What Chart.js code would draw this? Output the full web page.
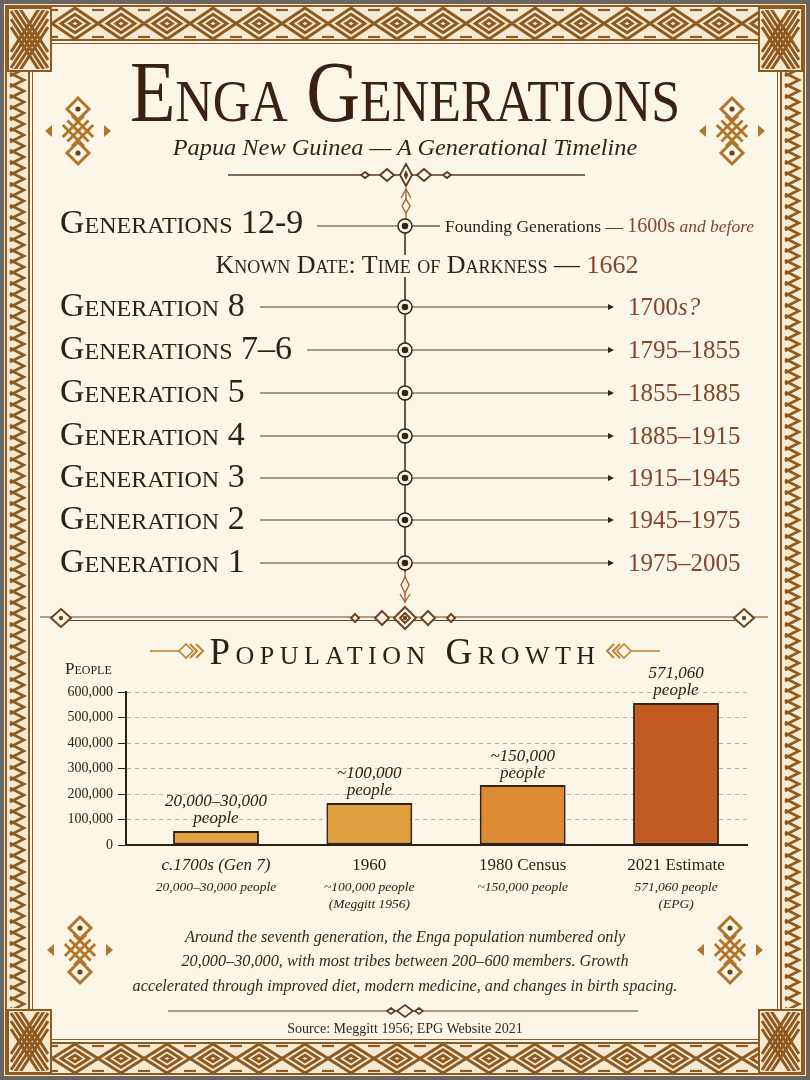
<!DOCTYPE html>
<html>
<head>
<meta charset="utf-8">
<title>Enga Generations</title>
<script src="https://cdn.jsdelivr.net/npm/chart.js@4.4.1/dist/chart.umd.min.js"></script>
<style>
  html, body { margin: 0; padding: 0; }
  body { width: 810px; height: 1080px; overflow: hidden; background: #6a645e; font-family: "Liberation Serif", "DejaVu Serif", serif; }
  #page { position: relative; width: 810px; height: 1080px; }
  #deco { position: absolute; left: 0; top: 0; }
  .txt { position: absolute; white-space: nowrap; line-height: 1; color: #2d2017; }
  .mid { transform: translate(-50%, -50%); transform-origin: center center; }
  .lft { transform: translateY(-50%); }
  .sc { font-variant: small-caps; }
  .brown { color: #83462a; }
  #chartBox { position: absolute; left: 40px; top: 656px; width: 730px; height: 260px; }
</style>
</head>
<body>
<div id="page">
  <canvas id="deco" width="810" height="1080"></canvas>
  <div id="chartBox"><canvas id="popChart"></canvas></div>
</div>
<script>
// timeline
const genLabels = ['Generation 8', 'Generations 7–6', 'Generation 5', 'Generation 4', 'Generation 3', 'Generation 2', 'Generation 1'];
const genDates = ['1700<i>s?</i>', '1795–1855', '1855–1885', '1885–1915', '1915–1945', '1945–1975', '1975–2005'];

// population chart
const categories = ['c.1700s (Gen 7)', '1960', '1980 Census', '2021 Estimate'];
const population = [55000, 165000, 235000, 557000];
const valueNotes = ['20,000–30,000', '~100,000', '~150,000', '571,060'];
const subNotes = [['20,000–30,000 people'], ['~100,000 people', '(Meggitt 1956)'], ['~150,000 people'], ['571,060 people', '(EPG)']];
const barColors = ['#e2a343', '#e0a03f', '#dd8b33', '#c25a22'];

const page = document.getElementById('page');
const g = document.getElementById('deco').getContext('2d');
const BR = '#8e5a1f', GOLD = '#b07528', INK = '#33241a', CREAM = '#fcf6e8', BAND = '#f5ead3';

function dia(cx, cy, dx, dy) {
  g.beginPath();
  g.moveTo(cx, cy - dy); g.lineTo(cx + dx, cy); g.lineTo(cx, cy + dy); g.lineTo(cx - dx, cy);
  g.closePath();
}
function seg(x1, y1, x2, y2) { g.beginPath(); g.moveTo(x1, y1); g.lineTo(x2, y2); g.stroke(); }

// frame
g.fillStyle = '#6a645e'; g.fillRect(0, 0, 810, 1080);
g.fillStyle = BAND; g.fillRect(4, 4, 802, 1072);
g.fillStyle = CREAM; g.fillRect(30, 40, 750, 1003);

function bandH(x0, x1, y0, y1) {
  g.save(); g.beginPath(); g.rect(x0, y0, x1 - x0, y1 - y0); g.clip();
  const h = y1 - y0, yc = (y0 + y1) / 2, w = 46;
  g.strokeStyle = BR; g.lineWidth = 3;
  for (let x = x0 - w; x < x1 + w; x += w) {
    const cx = x + w / 2;
    [1, 0.6, 0.22].forEach(k => { dia(cx, yc, w / 2 * k, (h / 2 - 1) * k); g.stroke(); });
    g.lineWidth = 2.2;
    seg(x - 6, y0 + 3, x + 6, y0 + 3); seg(x - 6, y1 - 3, x + 6, y1 - 3);
    g.lineWidth = 3;
  }
  g.restore();
}
function bandV(x0, x1, y0, y1) {
  g.save(); g.beginPath(); g.rect(x0, y0, x1 - x0, y1 - y0); g.clip();
  g.strokeStyle = BR; g.lineWidth = 2.6;
  for (let y = y0 - 14; y < y1 + 14; y += 11) {
    g.beginPath(); g.moveTo(x0 + 3, y - 7); g.lineTo(x1 - 4, y); g.lineTo(x0 + 3, y + 7); g.stroke();
  }
  g.restore();
}
function corner(x0, y0, w, h) {
  g.fillStyle = BAND; g.fillRect(x0, y0, w, h);
  g.save(); g.beginPath(); g.rect(x0 + 3, y0 + 3, w - 6, h - 6); g.clip();
  g.strokeStyle = BR; g.lineWidth = 3;
  for (let k = -16; k <= 16; k += 8) {
    seg(x0 + 4, y0 + 4 + k, x0 + w - 4, y0 + h - 4 + k);
    seg(x0 + w - 4, y0 + 4 + k, x0 + 4, y0 + h - 4 + k);
  }
  g.restore();
  g.strokeStyle = BR; g.lineWidth = 2; g.strokeRect(x0 + 1, y0 + 1, w - 2, h - 2);
}

bandH(52, 758, 7, 40);
bandH(52, 758, 1043, 1074);
bandV(7, 28, 72, 1008);
bandV(782, 803, 72, 1008);
g.strokeStyle = BR; g.lineWidth = 2;
g.strokeRect(6, 6, 798, 1068);
g.strokeRect(29, 40, 752, 1003);
g.lineWidth = 1; g.strokeRect(32.5, 43.5, 745, 996);
corner(7, 7, 45, 65); corner(758, 7, 45, 65);
corner(7, 1009, 45, 65); corner(758, 1009, 45, 65);

function medallion(cx, cy) {
  g.strokeStyle = GOLD; g.lineWidth = 2.8; g.lineCap = 'butt';
  const r = Math.SQRT1_2, L = 15;
  [-6.5, 0, 6.5].forEach(k => {
    seg(cx + k * r - L * r, cy - k * r - L * r, cx + k * r + L * r, cy - k * r + L * r);
    seg(cx + k * r - L * r, cy + k * r + L * r, cx + k * r + L * r, cy + k * r - L * r);
  });
  [-22, 22].forEach(d => {
    g.strokeStyle = GOLD; g.lineWidth = 3; dia(cx, cy + d, 11, 11); g.stroke();
    g.fillStyle = '#6d4217'; g.beginPath(); g.arc(cx, cy + d, 2.6, 0, Math.PI * 2); g.fill();
  });
  g.fillStyle = GOLD;
  [-1, 1].forEach(s => {
    g.beginPath(); g.moveTo(cx + s * 33, cy); g.lineTo(cx + s * 26, cy - 6); g.lineTo(cx + s * 26, cy + 6); g.closePath(); g.fill();
  });
}
medallion(78, 131); medallion(732, 131); medallion(80, 950); medallion(730, 950);

// title divider
g.strokeStyle = '#5a3a20'; g.lineWidth = 1.3;
seg(228, 175, 585, 175);
[[365, 4, 3], [387, 7, 6], [424, 7, 6], [447, 4, 3]].forEach(d => {
  dia(d[0], 175, d[1], d[2]); g.fillStyle = CREAM; g.fill(); g.lineWidth = 1.8; g.stroke();
});
dia(406, 175, 6, 11); g.fillStyle = CREAM; g.fill(); g.stroke();
dia(406, 175, 2.2, 5); g.fillStyle = '#5a3a20'; g.fill();

// timeline stem ornaments
g.strokeStyle = '#a8602a'; g.lineWidth = 1.4;
seg(406, 188, 406, 219);
seg(401, 198, 406, 189); seg(411, 198, 406, 189);
dia(406, 206, 4, 7); g.fillStyle = CREAM; g.fill(); g.stroke();
seg(405, 572, 405, 603);
dia(405, 585, 4, 8); g.fill(); g.stroke();
seg(400, 594, 405, 602); seg(410, 594, 405, 602);

// section divider
g.strokeStyle = '#6b4420'; g.lineWidth = 1.2;
seg(40, 617, 768, 617); seg(70, 620.5, 735, 620.5);
[[61, 10, 9], [744, 10, 9], [355, 4, 4], [382, 7, 7], [428, 7, 7], [451, 4, 4], [405, 11, 11]].forEach(d => {
  dia(d[0], 618, d[1], d[2]); g.fillStyle = CREAM; g.fill(); g.lineWidth = 2; g.stroke();
});
dia(405, 618, 5, 5); g.stroke();
[61, 744, 405].forEach(x => { g.fillStyle = '#6b4420'; g.beginPath(); g.arc(x, 618, 2.2, 0, Math.PI * 2); g.fill(); });

// population title arrows
function arrowOrn(dir) {
  const X = x => dir > 0 ? x : 810 - x;
  g.strokeStyle = '#c08232'; g.lineWidth = 1.6;
  seg(X(150), 651, X(180), 651);
  dia(X(186), 651, 7, 7); g.stroke();
  g.lineWidth = 2;
  [190, 196].forEach(x => { g.beginPath(); g.moveTo(X(x), 644); g.lineTo(X(x + 7), 651); g.lineTo(X(x), 658); g.stroke(); });
}
arrowOrn(1); arrowOrn(-1);

// bottom divider
g.strokeStyle = '#5a3a20'; g.lineWidth = 1.2;
seg(168, 1011, 638, 1011);
[[391, 4, 3], [419, 4, 3], [405, 8, 6]].forEach(d => {
  dia(d[0], 1011, d[1], d[2]); g.fillStyle = CREAM; g.fill(); g.lineWidth = 1.6; g.stroke();
});

// text helper
function addText(html, x, y, cls, style) {
  const d = document.createElement('div');
  d.className = 'txt ' + cls;
  d.innerHTML = html;
  d.style.left = x + 'px'; d.style.top = y + 'px';
  Object.assign(d.style, style || {});
  page.appendChild(d);
  return d;
}
function fitWidth(el, target) {
  el.style.transform = 'translate(-50%, -50%) scaleX(' + (target / el.offsetWidth).toFixed(3) + ')';
}

fitWidth(addText('Enga Generations', 405, 92, 'mid sc', { fontSize: '86px', color: '#3a2212' }), 550);
fitWidth(addText('<i>Papua New Guinea — A Generational Timeline</i>', 405, 147, 'mid', { fontSize: '24px', color: '#2f2419' }), 465);

// timeline rows
const rowY = [307, 350, 393, 436, 478, 520, 563];
g.strokeStyle = INK; g.lineWidth = 1.5;
seg(405, 219, 405, 255); seg(405, 277, 405, 572);

function node(y) {
  g.fillStyle = CREAM; g.strokeStyle = INK; g.lineWidth = 1.5;
  g.beginPath(); g.arc(405, y, 7, 0, Math.PI * 2); g.fill(); g.stroke();
  g.fillStyle = INK; g.beginPath(); g.arc(405, y, 3.3, 0, Math.PI * 2); g.fill();
}
function arrowHead(x, y) {
  g.fillStyle = INK; g.beginPath(); g.moveTo(x + 3, y); g.lineTo(x - 3, y - 3); g.lineTo(x - 3, y + 3); g.closePath(); g.fill();
}

const first = addText('Generations 12-9', 60, 222, 'lft sc', { fontSize: '34px' });
g.strokeStyle = '#4a3a2c'; g.lineWidth = 1.2;
seg(first.offsetLeft + first.offsetWidth + 14, 226, 398, 226);
seg(412, 226, 440, 226);
node(226);
addText('Founding Generations — <span class="brown" style="font-size:20px">1600s</span> <i class="brown">and before</i>', 445, 225, 'lft', { fontSize: '17.5px' });
addText('Known Date: Time of Darkness — <span class="brown">1662</span>', 427, 265, 'mid sc', { fontSize: '26px' });

genLabels.forEach((lab, i) => {
  const y = rowY[i];
  const el = addText(lab, 60, y - 2, 'lft sc', { fontSize: '34px' });
  g.strokeStyle = '#4a3a2c'; g.lineWidth = 1.2;
  seg(el.offsetLeft + el.offsetWidth + 15, y, 398, y);
  seg(412, y, 609, y);
  arrowHead(611, y);
  node(y);
  addText(genDates[i], 628, y - 1, 'lft brown', { fontSize: '25px' });
});

addText('Population Growth', 405, 651, 'mid sc', { fontSize: '37px', letterSpacing: '5.5px', color: '#2e1f14' });

// paragraph
const para = ['Around the seventh generation, the Enga population numbered only',
  '20,000–30,000, with most tribes between 200–600 members. Growth',
  'accelerated through improved diet, modern medicine, and changes in birth spacing.'];
const paraY = [937, 961, 986];
const probe = addText('<i>' + para[2] + '</i>', 405, 986, 'mid', { fontSize: '18px' });
const paraSize = 18 * 545 / probe.offsetWidth;
probe.remove();
para.forEach((t, i) => addText('<i>' + t + '</i>', 405, paraY[i], 'mid', { fontSize: paraSize.toFixed(2) + 'px', color: '#33261b' }));

addText('Source: Meggitt 1956; EPG Website 2021', 405, 1029, 'mid', { fontSize: '14px', color: '#33261b' });

// chart
const serif = '"Liberation Serif", serif';
const barNotes = {
  id: 'barNotes',
  afterDraw(chart) {
    const { ctx, chartArea, scales } = chart;
    const meta = chart.getDatasetMeta(0);
    ctx.save();
    ctx.fillStyle = '#2e2014';
    ctx.textAlign = 'center';
    ctx.textBaseline = 'middle';
    meta.data.forEach((bar, i) => {
      ctx.font = 'italic 17px ' + serif;
      ctx.fillText(valueNotes[i], bar.x, bar.y - 29);
      ctx.fillText('people', bar.x, bar.y - 12);
      ctx.font = 'italic 13.5px ' + serif;
      subNotes[i].forEach((line, j) => ctx.fillText(line, scales.x.getPixelForValue(i), chartArea.bottom + 42 + j * 17));
    });
    ctx.textAlign = 'left';
    const x0 = chartArea.left - 61, y0 = chartArea.top - 22;
    ctx.font = '17px ' + serif;
    ctx.fillText('P', x0, y0);
    const pw = ctx.measureText('P').width;
    ctx.font = '12px ' + serif;
    ctx.fillText('EOPLE', x0 + pw, y0 + 1);
    ctx.restore();
  }
};

new Chart(document.getElementById('popChart'), {
  type: 'bar',
  data: {
    datasets: [{
      data: population.map((v, i) => ({ x: i, y: v })),
      backgroundColor: barColors,
      borderColor: '#3a2210',
      borderWidth: 2,
      borderSkipped: false,
      barPercentage: 0.56,
      categoryPercentage: 1
    }]
  },
  options: {
    responsive: true,
    maintainAspectRatio: false,
    animation: false,
    layout: { padding: { top: 36, right: 23, left: 0, bottom: 0 } },
    plugins: { legend: { display: false }, tooltip: { enabled: false } },
    scales: {
      x: {
        type: 'linear',
        offset: false,
        min: -0.587,
        max: 3.463,
        afterBuildTicks: s => { s.ticks = categories.map((c, i) => ({ value: i })); },
        afterFit: s => { s.height = 71; },
        grid: { display: false, drawTicks: false, offset: false },
        border: { display: true, color: '#2e2014', width: 2 },
        ticks: {
          padding: 10,
          color: '#2e2014',
          autoSkip: false,
          maxRotation: 0,
          callback: v => categories[v],
          font: c => ({ family: serif, size: 17, style: c.index === 0 ? 'italic' : 'normal' })
        }
      },
      y: {
        min: 0,
        max: 600000,
        afterFit: s => { s.width = 86; },
        ticks: {
          stepSize: 100000,
          padding: 5,
          color: '#2e2014',
          font: { family: serif, size: 14 },
          callback: v => v.toLocaleString('en-US')
        },
        grid: { color: 'rgba(110,95,80,0.45)', lineWidth: 1, tickLength: 8, tickColor: '#2e2014', tickWidth: 1 },
        border: { color: '#2e2014', width: 2, dash: [4, 4] }
      }
    }
  },
  plugins: [barNotes]
});
</script>
</body>
</html>
